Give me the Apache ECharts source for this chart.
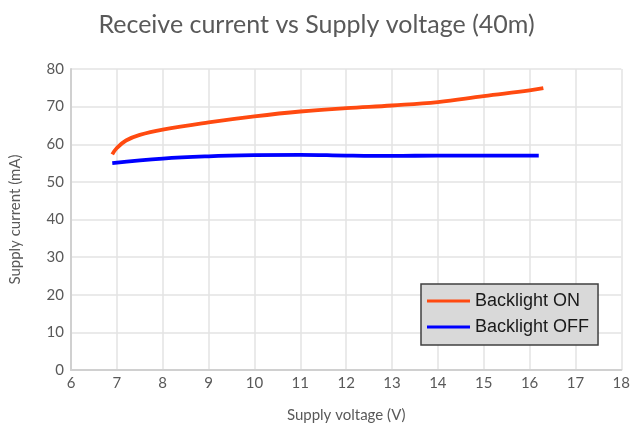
<!DOCTYPE html>
<html><head><meta charset="utf-8">
<script src="https://cdn.jsdelivr.net/npm/echarts@6/dist/echarts.min.js"></script>
<style>html,body{margin:0;padding:0;background:#fff;overflow:hidden}#c{width:633px;height:428px}</style>
</head><body><div id="c"></div>
<script>
const titleText = "Receive current vs Supply voltage (40m)";
const xName = "Supply voltage (V)";
const yName = "Supply current (mA)";
const seriesOnName = "Backlight ON";
const seriesOffName = "Backlight OFF";
const voltsOn = [6.9, 7.0, 7.2, 7.5, 8, 9, 10, 11, 12, 13, 14, 15, 16, 16.3];
const currentOn = [57.3, 59.0, 61.0, 62.5, 63.9, 65.8, 67.4, 68.7, 69.6, 70.3, 71.2, 72.8, 74.3, 74.9];
const voltsOff = [6.9, 8, 9, 10, 11, 12, 13, 14, 15, 16, 16.2];
const currentOff = [55.0, 56.2, 56.8, 57.1, 57.2, 57.0, 56.9, 57.0, 57.0, 57.0, 57.0];

const pair = (xs, ys) => xs.map((x, i) => [x, ys[i]]);
const chart = echarts.init(document.getElementById('c'), null, {renderer: 'canvas'});
const font = 'Lato';
chart.setOption({
  animation: false,
  backgroundColor: '#fff',
  title: {text: titleText, left: 'center', top: 7,
    textStyle: {fontFamily: font, fontSize: 25, fontWeight: 'normal', color: '#595959'}},
  grid: {left: 71, right: 9, top: 69, bottom: 56, containLabel: false},
  xAxis: {type: 'value', min: 6, max: 18, interval: 1,
    name: xName, nameLocation: 'middle', nameGap: 38,
    nameTextStyle: {fontFamily: font, fontSize: 15, color: '#595959'},
    axisLine: {show: true, lineStyle: {color: '#d0d0d0', width: 2}},
    axisTick: {show: false},
    axisLabel: {fontFamily: font, fontSize: 15, color: '#595959', margin: 6},
    splitLine: {show: true, lineStyle: {color: '#e3e3e3', width: 1.5}}},
  yAxis: {type: 'value', min: 0, max: 80, interval: 10,
    name: yName, nameLocation: 'middle', nameGap: 48,
    nameTextStyle: {fontFamily: font, fontSize: 15, color: '#595959'},
    axisLine: {show: true, lineStyle: {color: '#d0d0d0', width: 2}},
    axisTick: {show: false},
    axisLabel: {fontFamily: font, fontSize: 15, color: '#595959', margin: 7},
    splitLine: {show: true, lineStyle: {color: '#e3e3e3', width: 1.5}}},
  legend: {
    orient: 'vertical', left: 421, top: 284,
    padding: [8, 9, 9, 6], itemGap: 8,
    backgroundColor: '#d9d9d9', borderColor: '#404040', borderWidth: 1.5, borderRadius: 0,
    itemWidth: 43, itemHeight: 3,
    icon: 'rect',
    textStyle: {fontFamily: 'Liberation Sans', fontSize: 18, color: '#1a1a1a'},
    data: [seriesOnName, seriesOffName]
  },
  series: [
    {name: seriesOnName, type: 'line', smooth: 0.4, showSymbol: false,
     data: pair(voltsOn, currentOn), color: '#ff4a10',
     lineStyle: {width: 3.8, color: '#ff4a10'}},
    {name: seriesOffName, type: 'line', smooth: 0.4, showSymbol: false,
     data: pair(voltsOff, currentOff), color: '#0000ff',
     lineStyle: {width: 3.8, color: '#0000ff'}}
  ]
});
</script></body></html>
